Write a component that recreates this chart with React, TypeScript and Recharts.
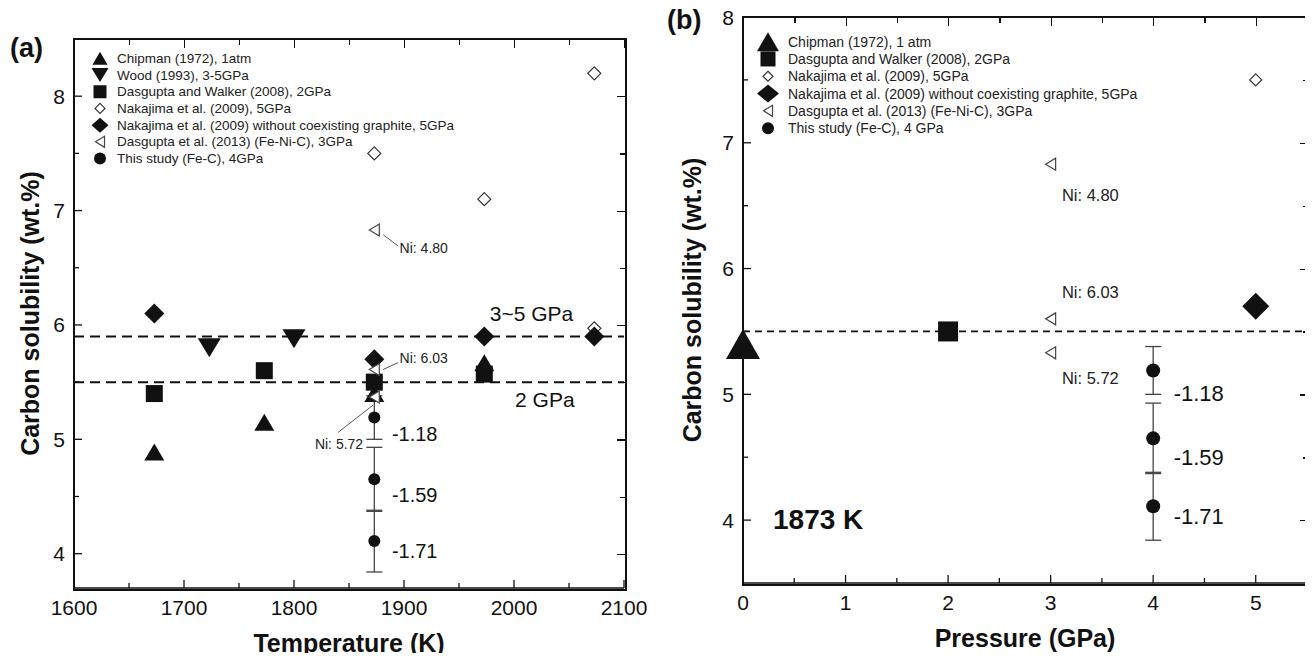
import React from "react";
import { ScatterChart, Scatter, XAxis, YAxis, ReferenceLine, ErrorBar, Legend, Label } from "recharts";

const FONT = '"Liberation Sans", Arial, Helvetica, sans-serif';
const INK = "#111";
const GREY = "#444";

// ---------- panel (a): carbon solubility vs temperature ----------
const tempDomain: [number, number] = [1600, 2100];
const solDomainA: [number, number] = [3.7, 8.5];
const tempTicks = [1600, 1650, 1700, 1750, 1800, 1850, 1900, 1950, 2000, 2050, 2100];
const tempLabels = [1600, 1700, 1800, 1900, 2000, 2100];
const solTicksA = [4, 4.5, 5, 5.5, 6, 6.5, 7, 7.5, 8];
const solLabels = [4, 5, 6, 7, 8];

const chipmanT = [1673, 1773, 1873, 1973];
const chipmanC = [4.89, 5.15, 5.4, 5.67];
const woodT = [1723, 1800];
const woodC = [5.8, 5.88];
const dwT = [1673, 1773, 1873, 1973];
const dwC = [5.4, 5.6, 5.5, 5.57];
const nakOpenT = [1873, 1973, 2073, 2073];
const nakOpenC = [7.5, 7.1, 8.2, 5.97];
const nakFillT = [1673, 1873, 1973, 2073];
const nakFillC = [6.1, 5.7, 5.9, 5.9];
const dg13T = [1873, 1873, 1873];
const dg13C = [6.83, 5.61, 5.37];
const studyT = [1873, 1873, 1873];
const studyC = [5.19, 4.65, 4.11];
const studyErr = [0.19, 0.28, 0.27];

const dashLevelsA = [5.9, 5.5];
const niTextA = ["Ni: 4.80", "Ni: 6.03", "Ni: 5.72"];
const niXA = [1896, 1896, 1819];
const niYA = [6.67, 5.71, 4.96];
const leaderA = [
  [1881, 6.79, 1894.5, 6.69],
  [1881, 5.61, 1894.5, 5.67],
  [1840, 5.06, 1872, 5.3],
];
const shiftText = ["-1.18", "-1.59", "-1.71"];
const shiftXA = [1889, 1889, 1889];
const shiftYA = [5.05, 4.51, 4.02];
const gpaText = ["3~5 GPa", "2 GPa"];
const gpaX = [1978, 2001];
const gpaY = [6.1, 5.35];

// ---------- panel (b): carbon solubility vs pressure at 1873 K ----------
const presDomain: [number, number] = [0, 5.5];
const solDomainB: [number, number] = [3.5, 8];
const presTicks = [0, 0.5, 1, 1.5, 2, 2.5, 3, 3.5, 4, 4.5, 5];
const presLabels = [0, 1, 2, 3, 4, 5];
const solTicksB = [4, 4.5, 5, 5.5, 6, 6.5, 7, 7.5, 8];

const chipmanP = [0];
const chipmanPC = [5.4];
const dwP = [2];
const dwPC = [5.5];
const nakOpenP = [5];
const nakOpenPC = [7.5];
const nakFillP = [5];
const nakFillPC = [5.7];
const dg13P = [3, 3, 3];
const dg13PC = [6.83, 5.6, 5.33];
const studyP = [4, 4, 4];

const dashLevelsB = [5.5];
const niXB = [3.11, 3.11, 3.11];
const niYB = [6.585, 5.81, 5.13];
const shiftXB = [4.2, 4.2, 4.2];
const shiftYB = [5.01, 4.5, 4.03];

// plot boxes (page pixels); chart margins are derived from them
const W = 655;
const H = 661;
const XAXIS_H = 50;
const boxA = { left: 74, right: 624, top: 39, bottom: 588 };
const offB = 658;
const boxB = { left: 743, right: 1307, top: 17, bottom: 583 };

type Kind = "tri" | "tridown" | "square" | "diamond" | "odiamond" | "oleft" | "circle";

const pts = (xs: number[], ys: number[], errs?: number[]) =>
  xs.map((x, i) => (errs ? { x, y: ys[i], err: errs[i] } : { x, y: ys[i] }));
const notes = (text: string[], xs: number[], ys: number[]) => text.map((t, i) => ({ x: xs[i], y: ys[i], text: t }));

const Marker = ({ cx, cy, kind, w, h }: { cx?: number; cy?: number; kind: Kind; w: number; h: number }) => {
  if (cx == null || cy == null) return null;
  const a = w / 2;
  const b = h / 2;
  switch (kind) {
    case "tri":
      return <polygon points={`${cx},${cy - b} ${cx + a},${cy + b} ${cx - a},${cy + b}`} fill={INK} />;
    case "tridown":
      return <polygon points={`${cx - a},${cy - b} ${cx + a},${cy - b} ${cx},${cy + b}`} fill={INK} />;
    case "square":
      return <rect x={cx - a} y={cy - b} width={w} height={h} fill={INK} />;
    case "diamond":
      return <polygon points={`${cx},${cy - b} ${cx + a},${cy} ${cx},${cy + b} ${cx - a},${cy}`} fill={INK} />;
    case "odiamond":
      return (
        <polygon points={`${cx},${cy - b} ${cx + a},${cy} ${cx},${cy + b} ${cx - a},${cy}`}
          fill="#fff" stroke="#333" strokeWidth={1.2} />
      );
    case "oleft":
      return (
        <polygon points={`${cx - a},${cy} ${cx + a},${cy - b} ${cx + a},${cy + b}`}
          fill="#fff" stroke={GREY} strokeWidth={1.2} />
      );
    default:
      return <circle cx={cx} cy={cy} r={a} fill={INK} />;
  }
};

type Series = { name: string; kind: Kind; data: any[]; size: [number, number]; lsize: [number, number]; err?: boolean };

const seriesA: Series[] = [
  { name: "Chipman (1972), 1atm", kind: "tri", data: pts(chipmanT, chipmanC), size: [20, 17], lsize: [15, 13] },
  { name: "Wood (1993), 3-5GPa", kind: "tridown", data: pts(woodT, woodC), size: [23, 19], lsize: [17, 14] },
  { name: "Dasgupta and Walker (2008), 2GPa", kind: "square", data: pts(dwT, dwC), size: [17, 17], lsize: [13, 13] },
  { name: "Nakajima et al. (2009), 5GPa", kind: "odiamond", data: pts(nakOpenT, nakOpenC), size: [13, 13], lsize: [10, 10] },
  { name: "Nakajima et al. (2009) without coexisting graphite, 5GPa", kind: "diamond", data: pts(nakFillT, nakFillC), size: [20, 20], lsize: [17, 15] },
  { name: "Dasgupta et al. (2013) (Fe-Ni-C), 3GPa", kind: "oleft", data: pts(dg13T, dg13C), size: [10, 12], lsize: [9, 11] },
  { name: "This study (Fe-C), 4GPa", kind: "circle", data: pts(studyT, studyC, studyErr), size: [12, 12], lsize: [12, 12], err: true },
];

const seriesB: Series[] = [
  { name: "Chipman (1972), 1 atm", kind: "tri", data: pts(chipmanP, chipmanPC), size: [34, 30], lsize: [22, 19] },
  { name: "Dasgupta and Walker (2008), 2GPa", kind: "square", data: pts(dwP, dwPC), size: [20, 20], lsize: [15, 15] },
  { name: "Nakajima et al. (2009), 5GPa", kind: "odiamond", data: pts(nakOpenP, nakOpenPC), size: [12, 12], lsize: [10, 10] },
  { name: "Nakajima et al. (2009) without coexisting graphite, 5GPa", kind: "diamond", data: pts(nakFillP, nakFillPC), size: [27, 27], lsize: [22, 18] },
  { name: "Dasgupta et al. (2013) (Fe-Ni-C), 3GPa", kind: "oleft", data: pts(dg13P, dg13PC), size: [10, 12], lsize: [9, 11] },
  { name: "This study (Fe-C), 4 GPa", kind: "circle", data: pts(studyP, studyC, studyErr), size: [14, 14], lsize: [12, 12], err: true },
];

const TICK_LINE = { stroke: INK, strokeWidth: 1.3 };
const tickLen = (v: number, labels: number[]) => (labels.includes(v) ? 8 : 5);

// bottom / left axes: inward ticks, labels only on the major values
const axisTick = (side: "bottom" | "left", gap: number, labels: number[]) => (props: any) => {
  const { x, y, payload } = props;
  const v = payload.value as number;
  const major = labels.includes(v);
  const len = tickLen(v, labels);
  const txt = { fontSize: 21, fill: INK, fontFamily: FONT };
  if (side === "bottom") {
    return (
      <g>
        <line x1={x} x2={x} y1={y - gap} y2={y - gap - len} {...TICK_LINE} />
        {major && <text x={x} y={y} textAnchor="middle" dominantBaseline="central" {...txt}>{v}</text>}
      </g>
    );
  }
  return (
    <g>
      <line x1={x + gap} x2={x + gap + len} y1={y} y2={y} {...TICK_LINE} />
      {major && <text x={x} y={y} textAnchor="end" dominantBaseline="central" {...txt}>{v}</text>}
    </g>
  );
};

// closed box around a plot, with inward ticks on the top and right sides
type Box = { left: number; right: number; top: number; bottom: number };
const PlotFrame = ({ box, xd, yd, xt, xl, yt, yl }: { box: Box; xd: [number, number]; yd: [number, number]; xt: number[]; xl: number[]; yt: number[]; yl: number[] }) => {
  const w = box.right - box.left;
  const h = box.bottom - box.top;
  const sx = (v: number) => ((v - xd[0]) / (xd[1] - xd[0])) * w;
  const sy = (v: number) => h - ((v - yd[0]) / (yd[1] - yd[0])) * h;
  return (
    <div style={{ position: "absolute", left: box.left - 1, top: box.top - 1, width: w, height: h,
      border: `2px solid ${INK}`, boxSizing: "content-box", pointerEvents: "none", zIndex: 5 }}>
      {xt.map((v) => (
        <div key={"t" + v} style={{ position: "absolute", left: sx(v) - 1, top: 0, width: 1.3, height: tickLen(v, xl), background: INK }} />
      ))}
      {yt.map((v) => (
        <div key={"r" + v} style={{ position: "absolute", right: 0, top: sy(v) - 1, width: tickLen(v, yl), height: 1.3, background: INK }} />
      ))}
    </div>
  );
};

const noteShape = (fontSize: number, fill = INK) => (p: any) =>
  p.cx == null ? <g /> : (
    <text x={p.cx} y={p.cy} fontSize={fontSize} fill={fill} fontFamily={FONT} dominantBaseline="central">
      {p.payload.text}
    </text>
  );

const LegendBox = ({ items, rowH, markerX, textX, fontSize }: { items: Series[]; rowH: number; markerX: number; textX: number; fontSize: number }) => (
  <svg width={460} height={rowH * items.length + 4} style={{ display: "block" }}>
    {items.map((s, i) => {
      const cy = rowH * i + rowH / 2 + 2;
      return (
        <g key={s.name}>
          <Marker cx={markerX} cy={cy} kind={s.kind} w={s.lsize[0]} h={s.lsize[1]} />
          <text x={textX} y={cy} fontSize={fontSize} fill="#222" fontFamily={FONT} dominantBaseline="central">{s.name}</text>
        </g>
      );
    })}
  </svg>
);

const axisLine = { stroke: INK, strokeWidth: 1.6 };
const titleStyle = { fontSize: 25, fontWeight: 700, fill: INK, fontFamily: FONT };

const renderSeries = (list: Series[]) =>
  list.map((s) => (
    <Scatter key={s.name} name={s.name} data={s.data} isAnimationActive={false}
      shape={(p: any) => <Marker cx={p.cx} cy={p.cy} kind={s.kind} w={s.size[0]} h={s.size[1]} />}>
      {s.err && <ErrorBar dataKey="err" direction="y" width={8} stroke={GREY} strokeWidth={1.3} />}
    </Scatter>
  ));

const PanelA = () => (
  <ScatterChart width={W} height={H} style={{ fontFamily: FONT }}
    margin={{ top: boxA.top, right: W - boxA.right, bottom: H - boxA.bottom - XAXIS_H, left: 0 }}>
    <XAxis type="number" dataKey="x" domain={tempDomain} ticks={tempTicks} interval={0}
      height={XAXIS_H} tickSize={0} tickMargin={19} tickLine={false} axisLine={axisLine} tick={axisTick("bottom", 19, tempLabels)}>
      <Label value="Temperature (K)" position="center" dy={30} style={titleStyle} />
    </XAxis>
    <YAxis type="number" dataKey="y" domain={solDomainA} ticks={solTicksA} interval={0}
      width={boxA.left} tickSize={0} tickMargin={9} tickLine={false} axisLine={axisLine} tick={axisTick("left", 9, solLabels)}>
      <Label value="Carbon solubility (wt.%)" angle={-90} position="center" dx={-7} style={titleStyle} />
    </YAxis>
    {dashLevelsA.map((v) => (
      <ReferenceLine key={v} y={v} stroke={INK} strokeWidth={2} strokeDasharray="10 6" />
    ))}
    {leaderA.map((l, i) => (
      <ReferenceLine key={"l" + i} segment={[{ x: l[0], y: l[1] }, { x: l[2], y: l[3] }]} stroke="#555" strokeWidth={1} />
    ))}
    {renderSeries(seriesA)}
    <Scatter data={notes(niTextA, niXA, niYA)} isAnimationActive={false} legendType="none" shape={noteShape(14, "#222")} />
    <Scatter data={notes(shiftText, shiftXA, shiftYA)} isAnimationActive={false} legendType="none" shape={noteShape(20)} />
    <Scatter data={notes(gpaText, gpaX, gpaY)} isAnimationActive={false} legendType="none" shape={noteShape(21)} />
    <Legend layout="horizontal" verticalAlign="middle" align="center"
      wrapperStyle={{ left: 80, top: 48, width: 460, height: 122 }}
      content={() => <LegendBox items={seriesA} rowH={16.7} markerX={20} textX={37} fontSize={13.5} />} />
  </ScatterChart>
);

const PanelB = () => (
  <ScatterChart width={W} height={H} style={{ fontFamily: FONT }}
    margin={{ top: boxB.top, right: offB + W - boxB.right, bottom: H - boxB.bottom - XAXIS_H, left: 0 }}>
    <XAxis type="number" dataKey="x" domain={presDomain} ticks={presTicks} interval={0}
      height={XAXIS_H} tickSize={0} tickMargin={19} tickLine={false} axisLine={axisLine} tick={axisTick("bottom", 19, presLabels)}>
      <Label value="Pressure (GPa)" position="center" dy={30} style={titleStyle} />
    </XAxis>
    <YAxis type="number" dataKey="y" domain={solDomainB} ticks={solTicksB} interval={0}
      width={boxB.left - offB} tickSize={0} tickMargin={9} tickLine={false} axisLine={axisLine} tick={axisTick("left", 9, solLabels)}>
      <Label value="Carbon solubility (wt.%)" angle={-90} position="center" dx={-8} style={titleStyle} />
    </YAxis>
    {dashLevelsB.map((v) => (
      <ReferenceLine key={v} y={v} stroke={INK} strokeWidth={1.8} strokeDasharray="7 5" />
    ))}
    {renderSeries(seriesB)}
    <Scatter data={notes(niTextA, niXB, niYB)} isAnimationActive={false} legendType="none" shape={noteShape(16.5, "#222")} />
    <Scatter data={notes(shiftText, shiftXB, shiftYB)} isAnimationActive={false} legendType="none" shape={noteShape(22)} />
    <Legend layout="horizontal" verticalAlign="middle" align="center"
      wrapperStyle={{ left: 90, top: 31, width: 460, height: 110 }}
      content={() => <LegendBox items={seriesB} rowH={17.3} markerX={20} textX={40} fontSize={14} />} />
  </ScatterChart>
);

const tag = (text: string, left: number, cy: number, size: number) => (
  <div style={{ position: "absolute", left, top: cy - size / 2, fontSize: size, lineHeight: `${size}px`, fontWeight: 700, fontFamily: FONT, color: INK, whiteSpace: "nowrap" }}>
    {text}
  </div>
);

export default function App() {
  return (
    <div style={{ position: "relative", margin: -8, width: 1313, height: 661, background: "#fff", overflow: "hidden" }}>
      <div style={{ position: "absolute", left: 0, top: 0 }}>
        <PanelA />
      </div>
      <div style={{ position: "absolute", left: offB, top: 0 }}>
        <PanelB />
      </div>
      <PlotFrame box={boxA} xd={tempDomain} yd={solDomainA} xt={tempTicks} xl={tempLabels} yt={solTicksA} yl={solLabels} />
      <PlotFrame box={boxB} xd={presDomain} yd={solDomainB} xt={presTicks} xl={presLabels} yt={solTicksB} yl={solLabels} />
      {tag("(a)", 10, 48, 27)}
      {tag("(b)", 667, 20, 27)}
      {tag("1873 K", 773, 520, 28)}
    </div>
  );
}
